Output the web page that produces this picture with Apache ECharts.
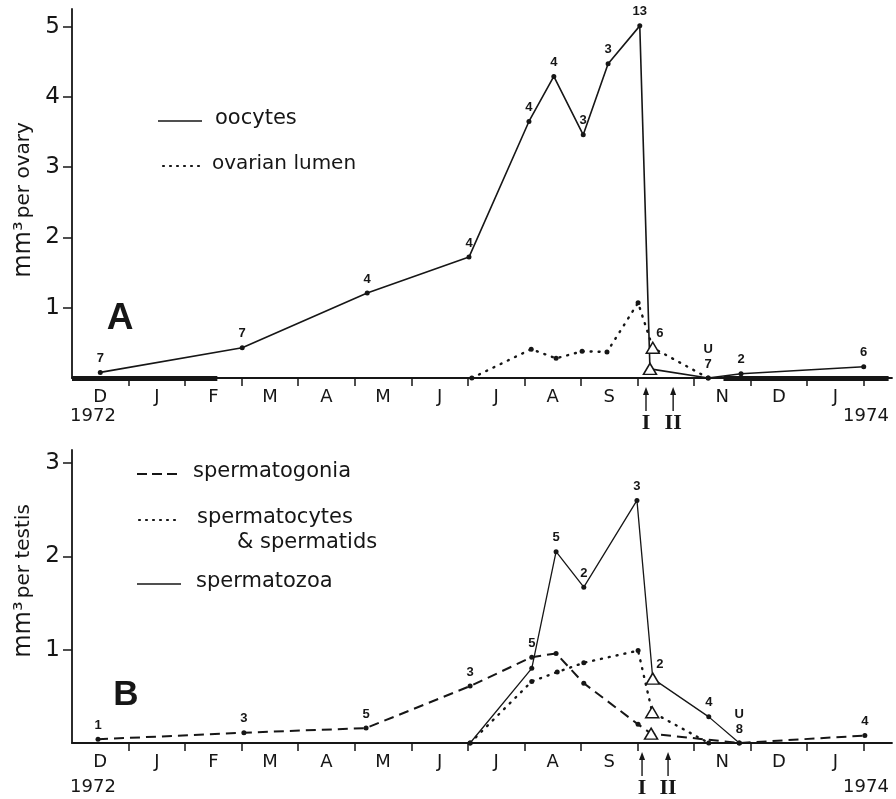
<!DOCTYPE html>
<html><head><meta charset="utf-8">
<script src="https://cdn.jsdelivr.net/npm/echarts@6/dist/echarts.min.js"></script>
<style>html,body{margin:0;padding:0;background:#fff}#c{width:896px;height:799px}</style>
</head><body><div id="c"></div>
<script>
// ---------- data ----------
const monthLetters = ['D','J','F','M','A','M','J','J','A','S','','N','D','J']; // Dec 1972 .. Jan 1974
const monthTicks = [1,2,3,4,5,6,7,8,9,10,11,12,13,14];
const monthLabelPos = [0.5,1.5,2.5,3.5,4.5,5.5,6.5,7.5,8.5,9.5,10.5,11.5,12.5,13.5];
const yTicksA = [1,2,3,4,5];
const yTicksB = [1,2,3];

// Panel A (x = months since 1 Dec 1972)
const oocytesX = [0.50, 3.01, 5.22, 7.02, 8.08, 8.52, 9.04, 9.48, 10.04, 10.22, 11.25, 11.83, 14.00];
const oocytesY = [0.08, 0.43, 1.21, 1.72, 3.65, 4.29, 3.46, 4.47, 5.01, 0.13, 0.00, 0.06, 0.16];
const oocytesN = ['7','7','4','4','4','4','3','3','13','','U\n7','2','6'];
const oocytesTri = 9;

const lumenX = [7.07, 8.12, 8.56, 9.02, 9.46, 10.01, 10.27, 11.25];
const lumenY = [0.00, 0.41, 0.28, 0.38, 0.37, 1.07, 0.43, 0.00];
const lumenN = ['','','','','','','6',''];
const lumenTri = 6;

const winterBarsA = [[0, 2.57], [11.52, 14.44]];
const arrowsA = [10.15, 10.63];

// Panel B
const gonX = [0.46, 3.04, 5.20, 7.04, 8.13, 8.56, 9.05, 10.01, 10.24, 11.80, 14.02];
const gonY = [0.04, 0.11, 0.16, 0.61, 0.92, 0.96, 0.64, 0.20, 0.10, 0.00, 0.08];
const gonN = ['1','3','5','3','5','','','','','','4'];
const gonTri = 8;

const cytX = [7.04, 8.13, 8.58, 9.05, 10.01, 10.26, 11.26];
const cytY = [0.00, 0.66, 0.76, 0.86, 0.99, 0.33, 0.00];
const cytN = ['','','','','','',''];
const cytTri = 5;

const zoaX = [7.04, 8.13, 8.56, 9.05, 9.99, 10.27, 11.26, 11.80];
const zoaY = [0.00, 0.80, 2.05, 1.67, 2.60, 0.69, 0.28, 0.00];
const zoaN = ['','','5','2','3','2','4','U\n8'];
const zoaTri = 5;

const arrowsB = [10.08, 10.54];
const yearLabelsX = [0.37, 14.04];
const yearLabels = ['1972', '1974'];

// ---------- chart ----------
const INK = '#161616';
const FONT = 'DejaVu Sans';
const chart = echarts.init(document.getElementById('c'));

function pts(xs, ys, ns, tri) {
  return xs.map((x, i) => {
    const it = { value: [x, ys[i]] };
    if (ns[i]) it.label = { show: true, formatter: ns[i] };
    if (i === tri) {
      it.symbol = 'triangle';
      it.symbolSize = [13, 11];
      it.itemStyle = { color: '#fff', borderColor: INK, borderWidth: 1.5 };
      if (it.label) it.label.offset = [7, 3];
    }
    return it;
  });
}

function xAxisCfg(gi) {
  return {
    type: 'value', gridIndex: gi, min: 0, max: 14.5,
    axisLine: { lineStyle: { color: INK, width: 1.8 } },
    axisTick: { show: true, customValues: monthTicks, length: 8, lineStyle: { color: INK, width: 1.5 } },
    axisLabel: {
      customValues: monthLabelPos, margin: 10, color: INK, fontFamily: FONT, fontSize: 18,
      formatter: v => monthLetters[Math.floor(v)] || ''
    },
    splitLine: { show: false }
  };
}
function yAxisCfg(gi, max, ticks) {
  return {
    type: 'value', gridIndex: gi, min: 0, max: max,
    axisLine: { show: true, lineStyle: { color: INK, width: 1.8 } },
    axisTick: { show: true, customValues: ticks, length: 9, lineStyle: { color: INK, width: 1.5 } },
    axisLabel: { customValues: ticks, margin: 12, color: INK, fontFamily: FONT, fontSize: 23 },
    splitLine: { show: false }
  };
}
const labelBase = { show: false, position: 'top', distance: 4, color: INK, fontSize: 13,
  fontWeight: 'bold', fontFamily: 'Liberation Sans', lineHeight: 15 };
function lineSeries(name, xi, data, lineStyle) {
  return {
    type: 'line', name, xAxisIndex: xi, yAxisIndex: xi, data,
    symbol: 'circle', symbolSize: 5, showSymbol: true, silent: true, animation: false,
    itemStyle: { color: INK }, lineStyle: Object.assign({ color: INK, width: 1.6 }, lineStyle),
    label: labelBase, clip: false
  };
}

const option = {
  backgroundColor: '#fff',
  animation: false,
  grid: [
    { left: 72, top: 9, width: 820, height: 369 },
    { left: 72, top: 450, width: 820, height: 293 }
  ],
  xAxis: [xAxisCfg(0), xAxisCfg(1)],
  yAxis: [yAxisCfg(0, 5.25, yTicksA), yAxisCfg(1, 3.14, yTicksB)],
  series: [
    Object.assign(lineSeries('winter', 0, [], {}), {
      markLine: {
        silent: true, symbol: ['none', 'none'], label: { show: false },
        lineStyle: { color: INK, width: 5, type: 'solid' },
        data: winterBarsA.map(b => [{ coord: [b[0], 0] }, { coord: [b[1], 0] }])
      }
    }),
    lineSeries('ovarian lumen', 0, pts(lumenX, lumenY, lumenN, lumenTri), { type: [1, 7], width: 2.4, cap: 'round' }),
    lineSeries('oocytes', 0, pts(oocytesX, oocytesY, oocytesN, oocytesTri), { width: 1.6 }),
    lineSeries('spermatogonia', 1, pts(gonX, gonY, gonN, gonTri), { type: [10, 6], width: 2 }),
    lineSeries('spermatocytes & spermatids', 1, pts(cytX, cytY, cytN, cytTri), { type: [1, 7], width: 2.4, cap: 'round' }),
    lineSeries('spermatozoa', 1, pts(zoaX, zoaY, zoaN, zoaTri), { width: 1.3 })
  ]
};
chart.setOption(option);

// ---------- annotations ----------
const g = [];
function legendLine(x1, x2, y, dash, w) {
  g.push({ type: 'line', shape: { x1, y1: y, x2, y2: y }, style: { stroke: INK, lineWidth: w || 1.6, lineDash: dash || null, lineCap: dash && dash[0] < 2 ? 'round' : 'butt' } });
}
function txt(x, y, text, size, opts) {
  g.push({ type: 'text', x, y, style: Object.assign({ text, fill: INK, font: size + 'px "' + FONT + '"', align: 'left', verticalAlign: 'middle' }, opts || {}) });
}
// legends
legendLine(158, 202, 121);
txt(215, 119, 'oocytes', 21);
legendLine(163, 201, 166, [1, 6], 2.2);
txt(212, 164, 'ovarian lumen', 20);

legendLine(137, 181, 474, [10, 5], 2);
txt(193, 472, 'spermatogonia', 21);
legendLine(139, 177, 520, [1, 6], 2.2);
txt(197, 518, 'spermatocytes', 21);
txt(237, 543, '& spermatids', 21);
legendLine(137, 181, 584, null, 1.4);
txt(196, 582, 'spermatozoa', 21);

// panel letters
g.push({ type: 'text', x: 120, y: 319, style: { text: 'A', fill: INK, font: 'bold 37px "Liberation Sans"', align: 'center', verticalAlign: 'middle' } });
g.push({ type: 'text', x: 126, y: 695, style: { text: 'B', fill: INK, font: 'bold 35px "Liberation Sans"', align: 'center', verticalAlign: 'middle' } });

// axis names
const nameRich = { a: { fontSize: 24, fontFamily: FONT, fill: INK }, b: { fontSize: 20, fontFamily: FONT, fill: INK } };
g.push({ type: 'text', x: 24, y: 200, rotation: Math.PI / 2, style: { text: '{a|mm³} {b|per ovary}', rich: nameRich, align: 'center', verticalAlign: 'middle' } });
g.push({ type: 'text', x: 24, y: 581, rotation: Math.PI / 2, style: { text: '{a|mm³} {b|per testis}', rich: nameRich, align: 'center', verticalAlign: 'middle' } });

// arrows, roman numerals, years
function panelExtras(gi, arrows, yearDy) {
  const base = chart.convertToPixel({ yAxisIndex: gi }, 0);
  arrows.forEach((ax, k) => {
    const px = chart.convertToPixel({ xAxisIndex: gi }, ax);
    g.push({ type: 'line', shape: { x1: px, y1: base + 14, x2: px, y2: base + 33 }, style: { stroke: INK, lineWidth: 1.4 } });
    g.push({ type: 'polygon', shape: { points: [[px, base + 9], [px - 3, base + 17], [px + 3, base + 17]] }, style: { fill: INK } });
    g.push({ type: 'text', x: px, y: base + 45, style: { text: k === 0 ? 'I' : 'II', fill: INK, font: 'bold 22px "Liberation Serif"', align: 'center', verticalAlign: 'middle' } });
  });
  yearLabelsX.forEach((yx, k) => {
    const px = chart.convertToPixel({ xAxisIndex: gi }, yx);
    g.push({ type: 'text', x: px, y: base + yearDy, style: { text: yearLabels[k], fill: INK, font: '18px "' + FONT + '"', align: 'center', verticalAlign: 'middle' } });
  });
}
panelExtras(0, arrowsA, 38);
panelExtras(1, arrowsB, 44);

chart.setOption({ graphic: g });
</script></body></html>
